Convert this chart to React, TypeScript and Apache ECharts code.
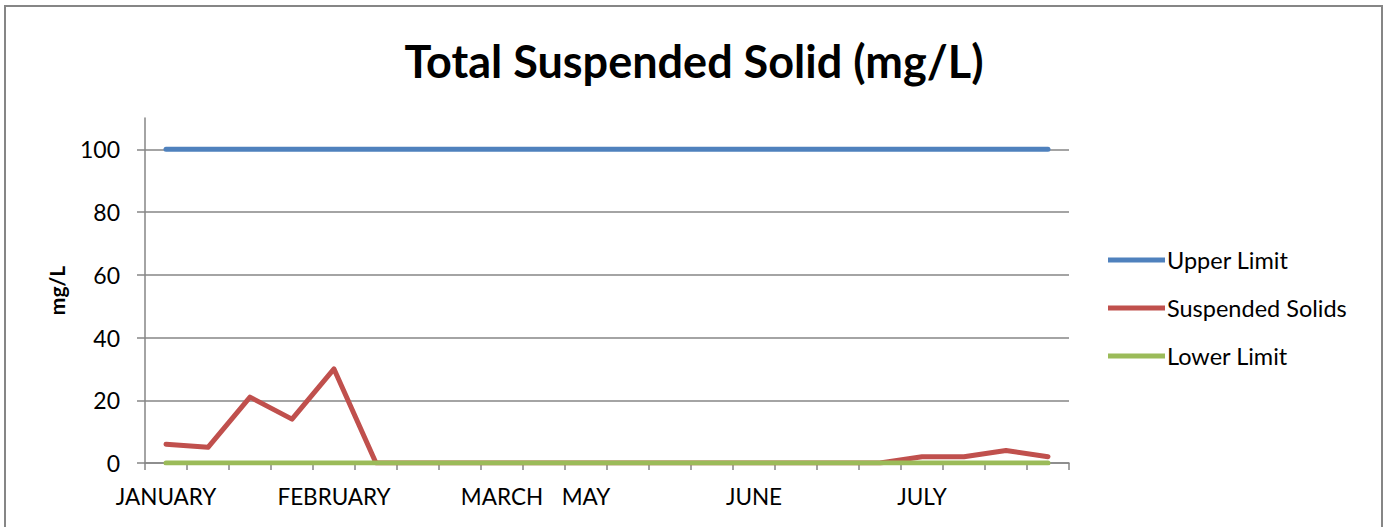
import React, { useEffect, useRef } from "react";
import * as echarts from "echarts";

const categories: string[] = [
  "JANUARY", "", "", "", "FEBRUARY", "", "", "", "MARCH", "", "MAY", "",
  "", "", "JUNE", "", "", "", "JULY", "", "", "",
];
const upperLimit: number[] = Array(22).fill(100);
const suspendedSolids: number[] = [6, 5, 21, 14, 30, 0, 0, 0, 0, 0, 0, 0, 0, 0, 0, 0, 0, 0, 2, 2, 4, 2];
const lowerLimit: number[] = Array(22).fill(0);
const yTicks: number[] = [0, 20, 40, 60, 80, 100];

const FONT = "Lato";

export default function App() {
  const ref = useRef<HTMLDivElement>(null);
  useEffect(() => {
    const chart = echarts.init(ref.current!, null, { renderer: "svg" });
    chart.setOption({
      animation: false,
      backgroundColor: "#ffffff",
      title: {
        text: "Total Suspended Solid (mg/L)",
        left: "center",
        top: 33,
        textStyle: { fontFamily: FONT, fontWeight: "bold", fontSize: 45, color: "#000" },
      },
      graphic: [
        {
          type: "rect",
          shape: { x: 5, y: 6, width: 1377, height: 540 },
          style: { fill: "none", stroke: "#868686", lineWidth: 2 },
          silent: true,
        },
      ],
      legend: {
        orient: "vertical",
        left: 1108,
        top: 248,
        padding: 0,
        itemWidth: 57,
        itemHeight: 5,
        itemGap: 24,
        icon: "rect",
        textStyle: { fontFamily: FONT, fontSize: 23.5, color: "#000", padding: [0, 0, 0, -3] },
        data: ["Upper Limit", "Suspended Solids", "Lower Limit"],
      },
      grid: { left: 145, right: 319, top: 118, bottom: 64, containLabel: false },
      xAxis: {
        type: "category",
        data: categories,
        boundaryGap: true,
        axisLine: { lineStyle: { color: "#868686", width: 1.5 } },
        axisTick: { show: true, interval: 0, length: 7, lineStyle: { color: "#868686", width: 1.5 } },
        axisLabel: {
          interval: 0,
          margin: 22,
          fontFamily: FONT,
          fontSize: 22.5,
          color: "#000",
        },
        splitLine: { show: false },
      },
      yAxis: {
        type: "value",
        min: 0,
        max: 110,
        interval: 20,
        name: "mg/L",
        nameLocation: "middle",
        nameGap: 78,
        nameRotate: 90,
        nameTextStyle: { fontFamily: FONT, fontWeight: "bold", fontSize: 21, color: "#000" },
        axisLine: { show: true, lineStyle: { color: "#868686", width: 1.5 } },
        axisTick: { show: true, length: 8, customValues: yTicks, lineStyle: { color: "#868686", width: 1.5 } },
        axisLabel: { customValues: yTicks, margin: 25, fontFamily: FONT, fontSize: 23, color: "#000" },
        splitLine: { show: true, customValues: yTicks, lineStyle: { color: "#868686", width: 1.5 } },
      },
      series: [
        {
          name: "Upper Limit",
          type: "line",
          data: upperLimit,
          showSymbol: false,
          symbol: "none",
          lineStyle: { width: 5, color: "#4F81BD", cap: "round" },
          itemStyle: { color: "#4F81BD" },
        },
        {
          name: "Suspended Solids",
          type: "line",
          data: suspendedSolids,
          showSymbol: false,
          symbol: "none",
          lineStyle: { width: 5, color: "#C0504D", cap: "round", join: "round" },
          itemStyle: { color: "#C0504D" },
        },
        {
          name: "Lower Limit",
          type: "line",
          data: lowerLimit,
          showSymbol: false,
          symbol: "none",
          lineStyle: { width: 5, color: "#9BBB59", cap: "round" },
          itemStyle: { color: "#9BBB59" },
        },
      ],
    });
    return () => chart.dispose();
  }, []);
  return (
    <div
      ref={ref}
      style={{ position: "absolute", left: 0, top: 0, width: 1388, height: 527 }}
    />
  );
}
